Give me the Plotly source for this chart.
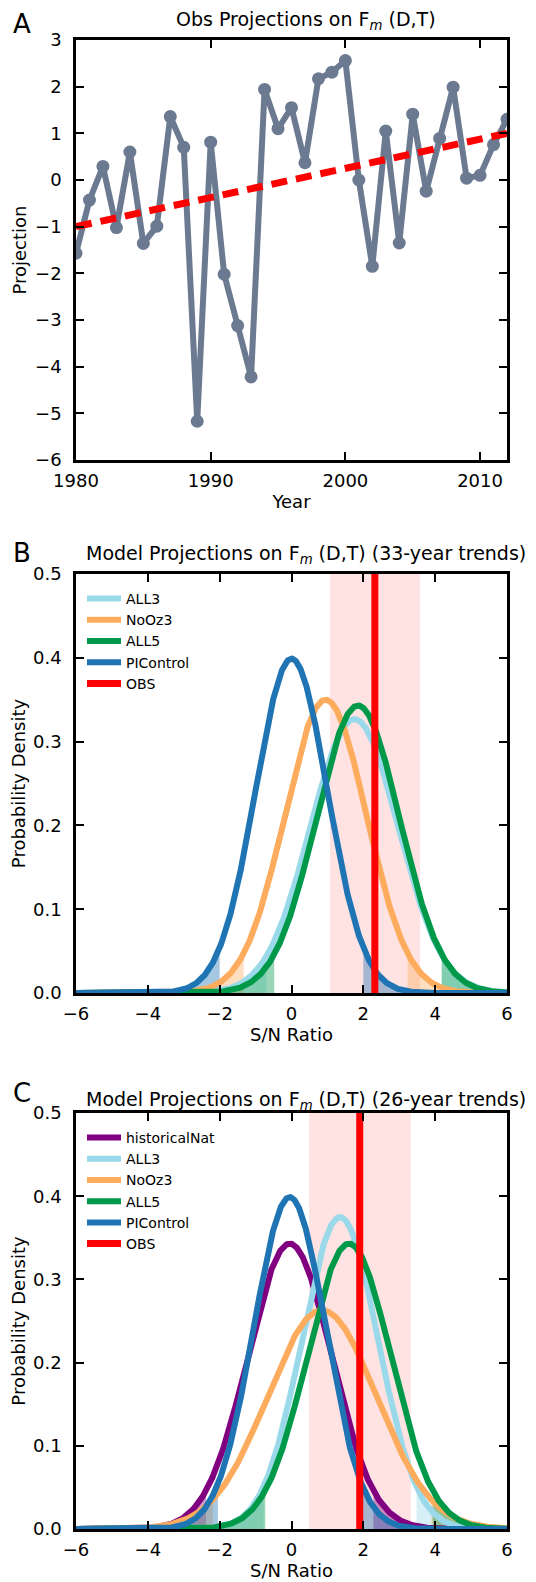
import numpy as np
import plotly.graph_objects as go

# ---- Panel A: observed projections ----
years = list(range(1980, 2013))
obs_proj = [-1.57, -0.43, 0.29, -1.02, 0.60, -1.36, -0.99, 1.36, 0.70, -5.17,
            0.81, -2.02, -3.12, -4.22, 1.94, 1.10, 1.55, 0.37, 2.17, 2.31,
            2.56, 0.00, -1.85, 1.05, -1.35, 1.41, -0.24, 0.89, 1.99, 0.04,
            0.10, 0.76, 1.30]
trend_years = [1980, 2012]
trend_vals = [-1.0, 1.0]

# ---- Panel B: 33-year trends (mean, sd of fitted normals) ----
b_names = ['ALL3', 'NoOz3', 'ALL5', 'PIControl']
b_means = [1.75, 0.95, 1.85, 0.0]
b_sds = [1.22, 1.14, 1.163, 1.0]
b_obs = 2.32
b_obs_band = [1.07, 3.58]

# ---- Panel C: 26-year trends ----
c_names = ['historicalNat', 'ALL3', 'NoOz3', 'ALL5', 'PIControl']
c_means = [-0.05, 1.35, 0.85, 1.6, -0.05]
c_sds = [1.163, 1.064, 1.517, 1.163, 1.0]
c_obs = 1.9
c_obs_band = [0.49, 3.32]

colors = {
    'historicalNat': (128, 0, 128),
    'ALL3': (154, 217, 234),
    'NoOz3': (253, 172, 94),
    'ALL5': (0, 153, 74),
    'PIControl': (31, 116, 180),
}

FONT = 'DejaVu Sans'
# page body has an 8px margin; the figure starts at (8, 8) and runs to the
# bottom edge of the window
OFF = 8
W, H = 536 - 2 * OFF, 1582 - OFF
L, R = 76 - OFF, 21
PW = W - L - R


def py(pix):
    # page pixel row (from top) -> paper fraction
    return (H - (pix - OFF)) / H


def px(pix):
    # page pixel column (from left) -> paper fraction
    return (pix - OFF - L) / PW


def rgb(c, a=1.0):
    return f'rgba({c[0]},{c[1]},{c[2]},{a})'


def pdf(x, m, s):
    return np.exp(-0.5 * ((x - m) / s) ** 2) / (s * np.sqrt(2 * np.pi))


fig = go.Figure()

# panel A
fig.add_trace(go.Scatter(
    x=years, y=obs_proj, mode='lines+markers',
    line=dict(color='#6b7a90', width=6),
    marker=dict(color='#6b7a90', size=13),
    xaxis='x', yaxis='y', showlegend=False))
fig.add_trace(go.Scatter(
    x=trend_years, y=trend_vals, mode='lines',
    line=dict(color='#ff0000', width=7, dash='16px,9px'),
    xaxis='x', yaxis='y', showlegend=False))

xs = np.linspace(-6, 6, 1201)


def add_dists(names, means, sds, obs, band, xa, ya, leg):
    # shaded tails beyond +/- 2 sd
    for n, m, s in zip(names, means, sds):
        for side in ('lo', 'hi'):
            xt = xs[xs <= m - 2 * s] if side == 'lo' else xs[xs >= m + 2 * s]
            fig.add_trace(go.Scatter(
                x=xt, y=pdf(xt, m, s), mode='lines', fill='tozeroy',
                fillcolor=rgb(colors[n], 0.4), line=dict(width=0),
                xaxis=xa, yaxis=ya, showlegend=False, hoverinfo='skip'))
    for n, m, s in zip(names, means, sds):
        fig.add_trace(go.Scatter(
            x=xs, y=pdf(xs, m, s), mode='lines', name=n,
            line=dict(color=rgb(colors[n]), width=6),
            xaxis=xa, yaxis=ya, legend=leg))
    fig.add_trace(go.Scatter(
        x=[obs, obs], y=[0, 0.5], mode='lines', name='OBS',
        line=dict(color='#ff0000', width=7),
        xaxis=xa, yaxis=ya, legend=leg))
    fig.add_shape(type='rect', xref=xa, yref=ya + ' domain',
                  x0=band[0], x1=band[1], y0=0, y1=1,
                  fillcolor='rgba(255,0,0,0.11)', line_width=0, layer='below')


add_dists(b_names, b_means, b_sds, b_obs, b_obs_band, 'x2', 'y2', 'legend')
add_dists(c_names, c_means, c_sds, c_obs, c_obs_band, 'x3', 'y3', 'legend2')

axis_common = dict(
    showline=True, linecolor='black', linewidth=2.5, mirror='ticks',
    ticks='inside', ticklen=8, tickwidth=1.5, tickcolor='black',
    showgrid=False, zeroline=False, automargin=False,
    tickfont=dict(family=FONT, size=18, color='black'),
    title_font=dict(family=FONT, size=18, color='black'),
)
xax = dict(axis_common, ticklabelstandoff=3)
yax = dict(axis_common, ticklabelstandoff=8)

# plot areas in page pixels (top, bottom)
doms = {
    'A': (40, 460),
    'B': (574, 993),
    'C': (1113, 1529),
}

legend_style = dict(xanchor='left', yanchor='top', bgcolor='rgba(0,0,0,0)',
                    font=dict(family=FONT, size=14), itemwidth=34,
                    tracegroupgap=0)

fig.update_layout(
    width=W, height=H, template='none',
    margin=dict(l=L, r=R, t=0, b=0),
    paper_bgcolor='white', plot_bgcolor='white',
    font=dict(family=FONT, size=16, color='black'),
    xaxis=dict(xax, domain=[0, 1], range=[1980, 2012],
               tickvals=[1980, 1990, 2000, 2010], anchor='y',
               title=dict(text='Year', standoff=6)),
    yaxis=dict(yax, domain=[py(doms['A'][1]), py(doms['A'][0])],
               range=[-6, 3], dtick=1, anchor='x',
               title=dict(text='Projection', standoff=4)),
    xaxis2=dict(xax, domain=[0, 1], range=[-6, 6], dtick=2, anchor='y2',
                title=dict(text='S/N Ratio', standoff=6)),
    yaxis2=dict(yax, domain=[py(doms['B'][1]), py(doms['B'][0])],
                range=[0, 0.5], dtick=0.1, tickformat='.1f', anchor='x2',
                title=dict(text='Probability Density', standoff=4)),
    xaxis3=dict(xax, domain=[0, 1], range=[-6, 6], dtick=2, anchor='y3',
                title=dict(text='S/N Ratio', standoff=6)),
    yaxis3=dict(yax, domain=[py(doms['C'][1]), py(doms['C'][0])],
                range=[0, 0.5], dtick=0.1, tickformat='.1f', anchor='x3',
                title=dict(text='Probability Density', standoff=4)),
    legend=dict(legend_style, x=px(82), y=py(doms['B'][0] + 9)),
    legend2=dict(legend_style, x=px(82), y=py(doms['C'][0] + 9)),
)

titles = [
    ('A', 'Obs Projections on F<sub><i>m</i></sub> (D,T)', 20, 24),
    ('B', 'Model Projections on F<sub><i>m</i></sub> (D,T) (33-year trends)', 554, 553),
    ('C', 'Model Projections on F<sub><i>m</i></sub> (D,T) (26-year trends)', 1100, 1093),
]
for letter, text, title_y, lab_y in titles:
    fig.add_annotation(text=text, xref='paper', yref='paper', x=px(306),
                       y=py(title_y), xanchor='center', yanchor='middle',
                       showarrow=False, font=dict(family=FONT, size=19))
    fig.add_annotation(text=letter, xref='paper', yref='paper',
                       x=px(22), y=py(lab_y), borderpad=0,
                       xanchor='center', yanchor='middle', showarrow=False,
                       font=dict(family=FONT, size=26))

fig.write_html('out.html')
